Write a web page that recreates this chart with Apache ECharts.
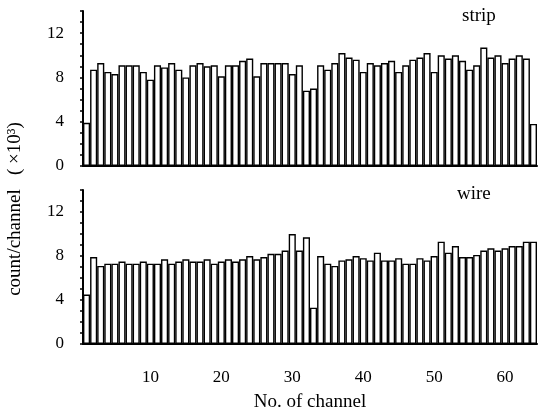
<!DOCTYPE html>
<html>
<head>
<meta charset="utf-8">
<script src="https://cdn.jsdelivr.net/npm/echarts@6/dist/echarts.min.js"></script>
<style>
  html, body { margin: 0; padding: 0; background: #fff; }
  #chart { width: 539px; height: 412px; }
</style>
</head>
<body>
<div id="chart"></div>
<script>
// channel numbers 1..64
const channels = [];
for (let i = 1; i <= 64; i++) channels.push(i);

// counts per channel (x10^3)
const stripCounts = [
  3.9, 8.7, 9.3, 8.5, 8.3, 9.1, 9.1, 9.1, 8.5, 7.8,
  9.1, 8.9, 9.3, 8.7, 8.0, 9.1, 9.3, 9.0, 9.1, 8.1,
  9.1, 9.1, 9.5, 9.7, 8.1, 9.3, 9.3, 9.3, 9.3, 8.3,
  9.1, 6.8, 7.0, 9.1, 8.7, 9.3, 10.2, 9.8, 9.6, 8.5,
  9.3, 9.1, 9.3, 9.5, 8.5, 9.1, 9.6, 9.8, 10.2, 8.5,
  10.0, 9.7, 10.0, 9.5, 8.7, 9.1, 10.7, 9.8, 10.0, 9.3,
  9.7, 10.0, 9.7, 3.8
];
const wireCounts = [
  4.5, 7.9, 7.1, 7.3, 7.3, 7.5, 7.3, 7.3, 7.5, 7.3,
  7.3, 7.7, 7.3, 7.5, 7.7, 7.5, 7.5, 7.7, 7.3, 7.5,
  7.7, 7.5, 7.7, 8.0, 7.7, 7.9, 8.2, 8.2, 8.5, 10.0,
  8.5, 9.7, 3.3, 8.0, 7.3, 7.1, 7.6, 7.7, 8.0, 7.8,
  7.6, 8.3, 7.6, 7.6, 7.8, 7.3, 7.3, 7.8, 7.6, 8.0,
  9.3, 8.3, 8.9, 7.9, 7.9, 8.1, 8.5, 8.7, 8.5, 8.7,
  8.9, 8.9, 9.3, 9.3
];
const panelNames = ['strip', 'wire'];

const serif = '"Liberation Serif", "DejaVu Serif", serif';
const chart = echarts.init(document.getElementById('chart'));

function mainX(gridIndex, showLabels) {
  return {
    type: 'category',
    gridIndex: gridIndex,
    data: channels,
    boundaryGap: true,
    axisLine: { lineStyle: { color: '#000', width: 2 } },
    axisTick: {
      alignWithLabel: true,
      interval: (i) => (i + 1) % 10 === 0,
      length: 5,
      lineStyle: { color: '#000', width: 1.5 }
    },
    axisLabel: {
      show: showLabels,
      interval: (i) => (i + 1) % 10 === 0,
      margin: 25,
      color: '#000',
      fontFamily: serif,
      fontSize: 17
    },
    splitLine: { show: false }
  };
}
function minorX(gridIndex) {
  return {
    type: 'category',
    gridIndex: gridIndex,
    data: channels,
    boundaryGap: true,
    position: 'bottom',
    axisLine: { show: false },
    axisTick: {
      alignWithLabel: true,
      interval: (i) => (i + 1) % 10 === 5,
      length: 3,
      lineStyle: { color: '#000', width: 1.5 }
    },
    axisLabel: { show: false },
    splitLine: { show: false }
  };
}
function yAx(gridIndex) {
  return {
    type: 'value',
    gridIndex: gridIndex,
    min: 0,
    max: 14,
    interval: 1,
    axisLine: { show: true, lineStyle: { color: '#000', width: 2 } },
    axisTick: { show: true, length: 3, lineStyle: { color: '#000', width: 1.5 } },
    axisLabel: {
      margin: 19,
      color: '#000',
      fontFamily: serif,
      fontSize: 17,
      formatter: (v) => (v % 4 === 0 && v <= 12 ? String(v) : '')
    },
    splitLine: { show: false }
  };
}
function barSeries(idx, values) {
  return {
    type: 'bar',
    xAxisIndex: idx * 2,
    yAxisIndex: idx,
    data: values,
    barCategoryGap: '0%',
    itemStyle: { color: '#fff', borderColor: '#000', borderWidth: 1.4 },
    silent: true
  };
}

const option = {
  animation: false,
  backgroundColor: '#fff',
  grid: [
    { left: 83, right: 2, top: 11, height: 155 },
    { left: 83, right: 2, top: 190, height: 154 }
  ],
  xAxis: [mainX(0, false), minorX(0), mainX(1, true), minorX(1)],
  yAxis: [yAx(0), yAx(1)],
  series: [barSeries(0, stripCounts), barSeries(1, wireCounts)],
  graphic: [
    { type: 'text', left: 462, top: 7, style: { text: panelNames[0], font: '19px ' + serif, fill: '#000' } },
    { type: 'text', left: 457, top: 185, style: { text: panelNames[1], font: '19px ' + serif, fill: '#000' } },
    {
      type: 'text', x: 15, y: 209, rotation: Math.PI / 2,
      style: { text: 'count/channel   ( ×10³)', font: '19px ' + serif, fill: '#000', align: 'center', verticalAlign: 'middle' }
    },
    {
      type: 'text', x: 310, y: 402,
      style: { text: 'No. of channel', font: '19px ' + serif, fill: '#000', align: 'center', verticalAlign: 'middle' }
    }
  ]
};
chart.setOption(option);
</script>
</body>
</html>
